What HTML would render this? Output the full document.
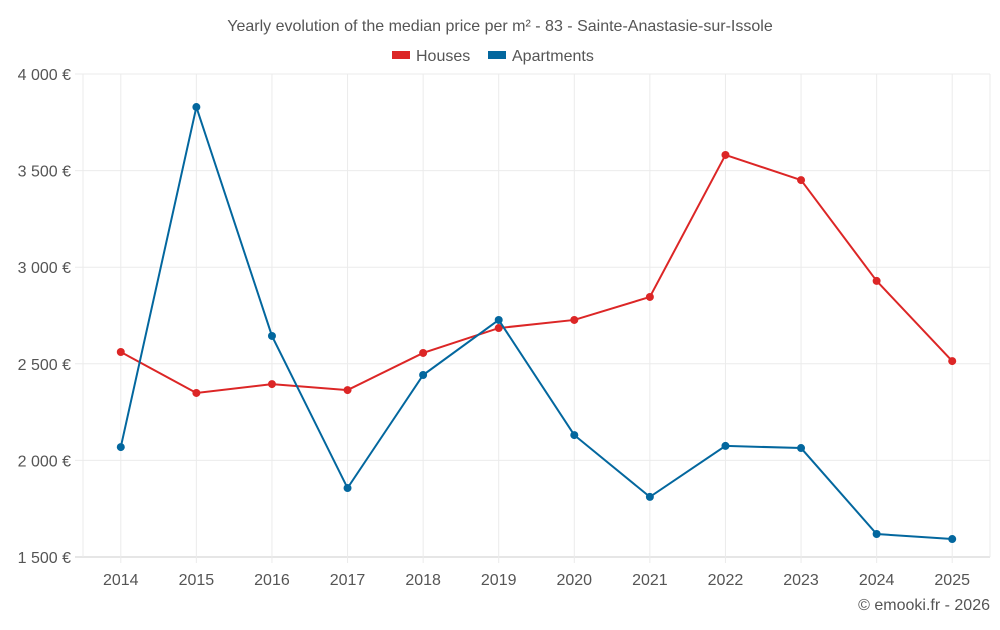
<!DOCTYPE html>
<html><head><meta charset="utf-8"><style>
body{margin:0;background:#fff;font-family:"Liberation Sans",sans-serif}
svg text{font-family:"Liberation Sans",sans-serif;fill:#555}
</style></head><body>
<svg id="c" width="1000" height="625">
<text x="500" y="31" text-anchor="middle" font-size="16">Yearly evolution of the median price per m² - 83 - Sainte-Anastasie-sur-Issole</text>
<g>
<g><rect x="392" y="51" width="18" height="8" fill="#dc2626"/><text x="416" y="61" font-size="16">Houses</text></g>
<g><rect x="488" y="51" width="18" height="8" fill="#03679e"/><text x="512" y="61" font-size="16">Apartments</text></g>
</g>
<g id="grid"></g><g id="axes"></g><g id="series"></g>
<text x="990" y="610" text-anchor="end" font-size="16">© emooki.fr - 2026</text>
</svg>
<script>
const years=[2014,2015,2016,2017,2018,2019,2020,2021,2022,2023,2024,2025];
const houses=[2561,2349,2395,2364,2556,2685,2727,2846,3581,3451,2929,2514];
const apartments=[2069,3829,2644,1857,2442,2727,2131,1811,2075,2064,1619,1593];
const yTicks=[1500,2000,2500,3000,3500,4000];
const yTickLabels=["1 500 €","2 000 €","2 500 €","3 000 €","3 500 €","4 000 €"];
const L=83,R=990,T=74,B=557,ns="http://www.w3.org/2000/svg";
const step=(R-L)/years.length;
const x=i=>L+step*(i+0.5);
const y=v=>B-(v-1500)/(4000-1500)*(B-T);
function mk(t,a,p){const e=document.createElementNS(ns,t);for(const k in a)e.setAttribute(k,a[k]);p.appendChild(e);return e;}
const g=document.getElementById('grid'),ax=document.getElementById('axes'),s=document.getElementById('series');
yTicks.forEach((v,i)=>{
 const l=mk('line',{x1:L-8,x2:R,y1:y(v),y2:y(v),stroke:i==0?'#ccc':'#ebebeb'},g);
 
 
 const t=mk('text',{x:71,y:y(v)+6,'text-anchor':'end','font-size':16},ax);t.textContent=yTickLabels[i];
 
 
});
[L,R].forEach(px=>{
 const l=mk('line',{x1:px,x2:px,y1:T,y2:B,stroke:'#ebebeb'},g);
 
 
});
years.forEach((yr,i)=>{
 const l=mk('line',{x1:x(i),x2:x(i),y1:T,y2:B+6,stroke:'#ebebeb'},g);
 
 
 const t=mk('text',{x:x(i),y:585,'text-anchor':'middle','font-size':16},ax);t.textContent=yr;
 
 
});
[[houses,'#dc2626','houses'],[apartments,'#03679e','apartments']].forEach(([d,c,n])=>{
 const p=mk('polyline',{points:d.map((v,i)=>x(i)+','+y(v)).join(' '),fill:'none',stroke:c,'stroke-width':2},s);
 
 
 d.forEach((v,i)=>{const ci=mk('circle',{cx:x(i),cy:y(v),r:4,fill:c},s);
  
  });
});
</script>
</body></html>
